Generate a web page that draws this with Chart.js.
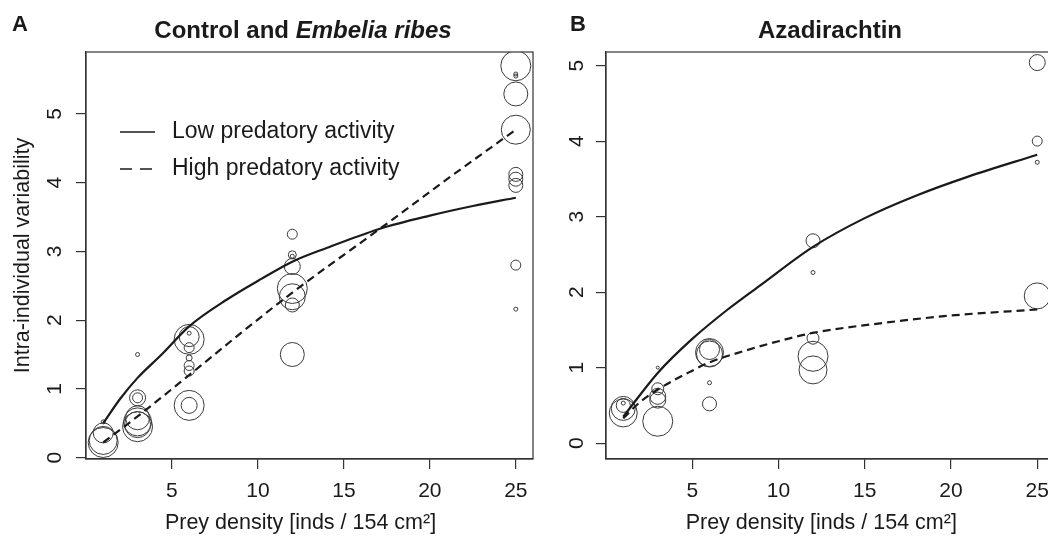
<!DOCTYPE html>
<html>
<head>
<meta charset="utf-8">
<script src="https://cdn.jsdelivr.net/npm/chart.js@4.4.1/dist/chart.umd.min.js"></script>
<style>
  body { margin: 0; width: 1048px; height: 536px; overflow: hidden; background: #fff; position: relative;
         font-family: "Liberation Sans", Arial, sans-serif; color: #1a1a1a; }
  canvas { position: absolute; top: 0; }
  #chartA { left: 0; }
  #chartB { left: 540px; }
  .tag { position: absolute; font-weight: bold; font-size: 22px; line-height: 22px; z-index: 2; }
  .ttl { position: absolute; font-weight: bold; font-size: 24px; line-height: 24px; white-space: nowrap;
         transform: translateX(-50%); z-index: 2; }
</style>
</head>
<body>
<canvas id="chartA" width="540" height="536"></canvas>
<canvas id="chartB" width="522" height="536"></canvas>
<div class="tag" style="left:12px;top:13px">A</div>
<div class="ttl" style="left:303px;top:18px">Control and <i>Embelia ribes</i></div>
<div class="tag" style="left:570px;top:13px">B</div>
<div class="ttl" style="left:830px;top:18px">Azadirachtin</div>

<script>
// tick labels
const ticksX = [5, 10, 15, 20, 25];
const ticksY = [0, 1, 2, 3, 4, 5];

// panel A : control and Embelia ribes (observations, bubble radius = sample weight)
const ctrlX = [1, 1, 1, 1, 3, 3, 3, 3, 3, 3, 3, 6, 6, 6, 6, 6, 6, 6, 6, 6,
               12, 12, 12, 12, 12, 12, 12, 12, 25, 25, 25, 25, 25, 25, 25, 25, 25, 25];
const ctrlY = [0.22, 0.25, 0.36, 0.52, 0.87, 0.87, 0.58, 0.52, 0.48, 0.45, 1.50,
               0.76, 0.76, 1.72, 1.76, 1.81, 1.60, 1.45, 1.34, 1.26,
               3.25, 2.95, 2.93, 2.78, 2.46, 2.34, 2.22, 1.50,
               5.70, 5.58, 5.55, 5.29, 4.77, 4.12, 4.05, 3.96, 2.80, 2.16];
const ctrlR = [15, 14, 10, 2, 5, 8, 12, 14, 13, 15, 2, 15, 8, 15, 10, 2, 5, 3, 5, 5,
               5, 4, 2, 8, 15, 13, 7, 12, 15, 2, 2, 12, 14.5, 7, 7, 7, 5, 2];
// fitted curves, panel A
const lowAX = [1, 2, 3, 4.4, 6, 8.2, 10.2, 12, 14, 17.1, 20, 22.5, 25];
const lowAY = [0.5, 0.86, 1.16, 1.5, 1.91, 2.3, 2.6, 2.85, 3.05, 3.33, 3.52, 3.66, 3.78];
const highAX = [1, 3, 6, 9, 12, 17.1, 21, 25];
const highAY = [0.22, 0.6, 1.2, 1.81, 2.4, 3.33, 4.05, 4.77];

// panel B : azadirachtin
const azaX = [1, 1, 1, 1, 3, 3, 3, 3, 3, 6, 6, 6, 6, 6, 12, 12, 12, 12, 12, 25, 25, 25, 25];
const azaY = [0.40, 0.46, 0.50, 0.53, 1.00, 0.72, 0.62, 0.57, 0.29,
              1.20, 1.24, 1.18, 0.80, 0.52, 2.68, 2.26, 1.39, 1.15, 0.97,
              5.04, 4.00, 3.72, 1.95];
const azaR = [14, 12, 7, 2, 1.5, 6, 8, 8, 15, 14, 10, 13, 2, 7, 7, 2, 6, 15, 14, 8, 5, 2, 13];
const lowBX = [1, 3, 5, 7, 9, 12, 15, 18, 21, 25];
const lowBY = [0.35, 0.93, 1.38, 1.76, 2.1, 2.6, 2.98, 3.28, 3.53, 3.82];
const highBX = [1, 2, 3, 5, 6, 8, 10, 12, 16, 20, 25];
const highBY = [0.33, 0.55, 0.71, 0.96, 1.07, 1.22, 1.35, 1.46, 1.59, 1.69, 1.77];

const INK = '#1a1a1a';
const FONT = "'Liberation Sans', Arial, sans-serif";
Chart.defaults.font.family = FONT;
Chart.defaults.font.size = 21;
Chart.defaults.color = INK;

function pts(xs, ys, rs) {
  return xs.map((x, i) => rs ? { x: x, y: ys[i], r: rs[i] } : { x: x, y: ys[i] });
}

// frame around the plotting region
const frame = {
  id: 'frame',
  afterDraw(chart) {
    const a = chart.chartArea, ctx = chart.ctx;
    ctx.save();
    ctx.strokeStyle = '#333';
    ctx.lineWidth = 1.2;
    ctx.strokeRect(a.left, a.top, a.right - a.left, a.bottom - a.top);
    ctx.restore();
  }
};

// R-style legend inside panel A
const keyBox = {
  id: 'keyBox',
  afterDraw(chart, args, opts) {
    if (!opts.show) return;
    const ctx = chart.ctx;
    ctx.save();
    chart.data.datasets.filter(d => d.type === 'line').forEach((d, i) => {
      const y = opts.y + i * opts.gap;
      ctx.strokeStyle = INK;
      ctx.lineWidth = 1.4;
      ctx.setLineDash(d.borderDash ? [12, 8] : []);
      ctx.beginPath();
      ctx.moveTo(opts.x, y);
      ctx.lineTo(opts.x + 35, y);
      ctx.stroke();
      ctx.setLineDash([]);
      ctx.fillStyle = INK;
      ctx.font = '23px ' + FONT;
      ctx.textBaseline = 'middle';
      ctx.fillText(d.label, opts.x + 52, y);
    });
    ctx.restore();
  }
};

function panel(id, o) {
  return new Chart(document.getElementById(id), {
    type: 'bubble',
    data: {
      datasets: [
        { type: 'line', label: 'Low predatory activity', data: pts(o.lowX, o.lowY),
          borderColor: INK, borderWidth: 2.2, pointRadius: 0, cubicInterpolationMode: 'monotone' },
        { type: 'line', label: 'High predatory activity', data: pts(o.highX, o.highY),
          borderColor: INK, borderWidth: 2.2, borderDash: [8, 5], pointRadius: 0, cubicInterpolationMode: 'monotone' },
        { label: 'obs', data: pts(o.x, o.y, o.r),
          backgroundColor: 'rgba(0,0,0,0)', borderColor: '#3a3a3a', borderWidth: 1 }
      ]
    },
    options: {
      responsive: false,
      animation: false,
      events: [],
      layout: { autoPadding: false, padding: { left: 0, top: 52, right: o.padRight, bottom: 0 } },
      plugins: {
        legend: { display: false },
        tooltip: { enabled: false },
        keyBox: { show: o.key, x: 120, y: 132, gap: 37 }
      },
      scales: {
        x: {
          type: 'linear', min: 0, max: 26,
          afterBuildTicks: s => { s.ticks = ticksX.map(v => ({ value: v })); },
          afterFit: s => { s.height = 77; s.paddingLeft = 0; s.paddingRight = 0; },
          grid: { drawOnChartArea: false, tickLength: 10, color: '#333', lineWidth: 1.2 },
          border: { color: '#333', width: 1.2 },
          ticks: { padding: 10, maxRotation: 0 },
          // trailing spaces nudge the centred label left, as in the original
          title: { display: true, text: 'Prey density [inds / 154 cm²]   ', font: { size: 21.5 },
                   padding: { top: 0, bottom: 0 } }
        },
        y: {
          type: 'linear', min: o.yMin, max: o.yMax,
          afterBuildTicks: s => { s.ticks = ticksY.map(v => ({ value: v })); },
          afterFit: s => { s.width = o.yWidth; s.paddingTop = 0; s.paddingBottom = 0; },
          grid: { drawOnChartArea: false, tickLength: 10, color: '#333', lineWidth: 1.2 },
          border: { color: '#333', width: 1.2 },
          ticks: { minRotation: 90, maxRotation: 90, crossAlign: 'center', padding: o.tickPad },
          title: { display: o.yTitle, text: 'Intra-individual variability', font: { size: 21.5 },
                   padding: { top: 10, bottom: 0 } }
        }
      }
    },
    plugins: [frame, keyBox]
  });
}

panel('chartA', { x: ctrlX, y: ctrlY, r: ctrlR, lowX: lowAX, lowY: lowAY, highX: highAX, highY: highAY,
                  yMin: -0.02, yMax: 5.9, yWidth: 86, padRight: 7, tickPad: 15, yTitle: true, key: true });
panel('chartB', { x: azaX, y: azaY, r: azaR, lowX: lowBX, lowY: lowBY, highX: highBX, highY: highBY,
                  yMin: -0.21, yMax: 5.18, yWidth: 66, padRight: 7.5, tickPad: 13, yTitle: false, key: false });
</script>
</body>
</html>
